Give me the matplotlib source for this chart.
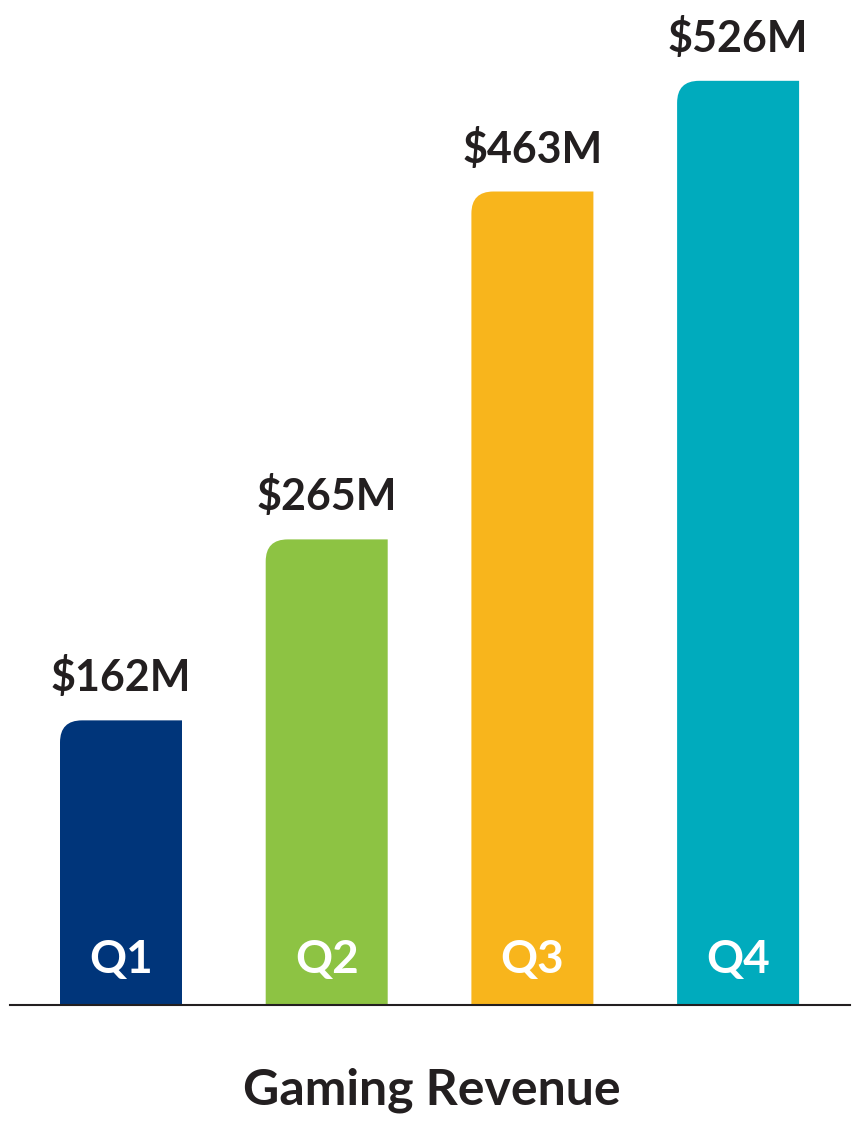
import matplotlib
matplotlib.use("Agg")
import matplotlib.pyplot as plt
from matplotlib.path import Path
from matplotlib.patches import PathPatch

quarters = ["Q1", "Q2", "Q3", "Q4"]
values = [162, 265, 463, 526]
labels = ["$162M", "$265M", "$463M", "$526M"]
colors = ["#00357a", "#8dc343", "#f8b51c", "#00abbd"]

fig = plt.figure(figsize=(8.6, 11.29), dpi=100)
ax = fig.add_axes([0, 124/1129, 1, 1005/1129])
ax.set_xlim(0, 860)
pxu = 1.757  # pixels per unit
ax.set_ylim(0, 1005/pxu)
ax.axis("off")

w = 122
r = 22
for i, (q, v, lab, c) in enumerate(zip(quarters, values, labels, colors)):
    x0 = 60 + i*205.7
    x1 = x0 + w
    ry = r/pxu
    verts = [(x0, 0), (x1, 0), (x1, v), (x0 + r, v), (x0, v), (x0, v - ry), (x0, 0)]
    codes = [Path.MOVETO, Path.LINETO, Path.LINETO, Path.LINETO, Path.CURVE3, Path.CURVE3, Path.CLOSEPOLY]
    ax.add_patch(PathPatch(Path(verts, codes), facecolor=c, edgecolor="none"))
    ax.text(x0 + w/2, v + 22/pxu, lab, ha="center", va="bottom", fontsize=31,
            fontweight="bold", family="Lato", color="#231f20")
    ax.text(x0 + w/2, 24/pxu, q, ha="center", va="bottom", fontsize=33,
            fontweight="bold", family="Lato", color="white")

ax.plot([10, 850], [0, 0], color="#231f20", lw=1.5, clip_on=False)
fig.text(432/860, 1-1090/1129, "Gaming Revenue", ha="center", va="center",
         fontsize=36, fontweight="bold", family="Lato", color="#231f20")
fig.savefig("out.png", dpi=100)
